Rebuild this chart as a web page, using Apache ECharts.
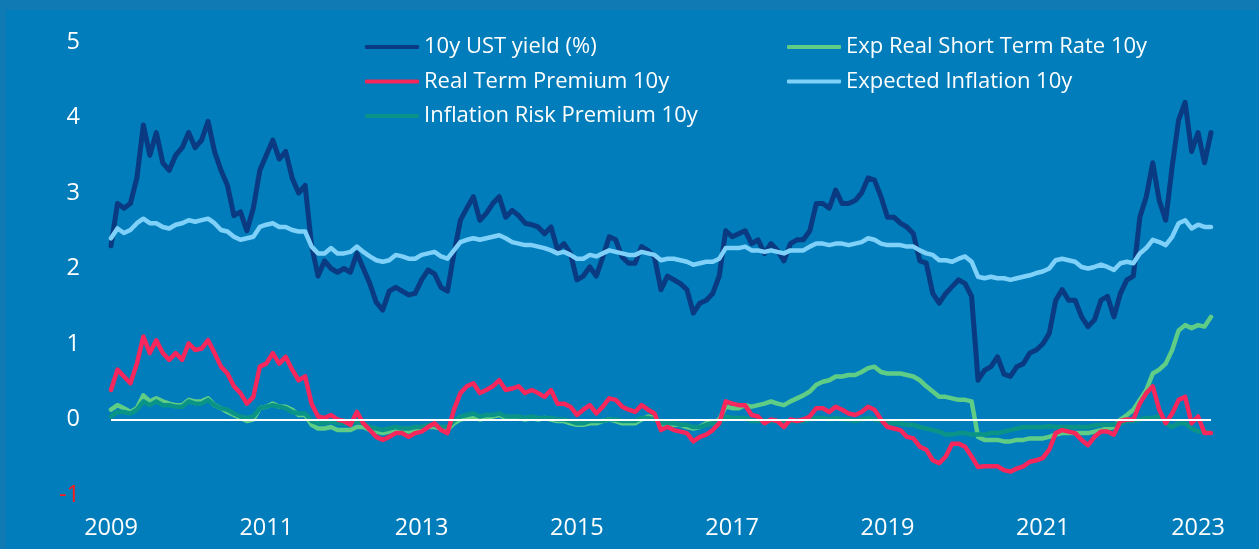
<!DOCTYPE html>
<html>
<head>
<meta charset="utf-8">
<script src="https://cdn.jsdelivr.net/npm/echarts@6/dist/echarts.min.js"></script>
<style>
  html, body { margin: 0; padding: 0; background: #0f7ab3; width: 1259px; height: 549px; overflow: hidden; }
  #main { position: absolute; left: 6px; top: 10px; width: 1253px; height: 539px; background: #007dba; }
</style>
</head>
<body>
<div id="main"></div>
<script>
// monthly values, Jan 2009 .. Mar 2023
var startYear = 2009
var yearTicks = ['2009', '2011', '2013', '2015', '2017', '2019', '2021', '2023']

var ustYield = [
    2.3, 2.86, 2.8, 2.86, 3.2, 3.9, 3.5, 3.8, 3.4, 3.3, 3.5, 3.6,
    3.8, 3.6, 3.7, 3.95, 3.55, 3.3, 3.1, 2.7, 2.75, 2.5, 2.8, 3.3,
    3.5, 3.7, 3.45, 3.55, 3.2, 3.0, 3.1, 2.3, 1.9, 2.1, 2.0, 1.95,
    2.0, 1.95, 2.2, 2.0, 1.8, 1.55, 1.45, 1.7, 1.75, 1.7, 1.65, 1.67,
    1.85, 1.98, 1.93, 1.75, 1.7, 2.2, 2.64, 2.8, 2.95, 2.64, 2.73, 2.86,
    2.95, 2.68, 2.77, 2.7, 2.6, 2.58, 2.55, 2.46, 2.55, 2.25, 2.33, 2.2,
    1.85, 1.9, 2.02, 1.9, 2.15, 2.42, 2.38, 2.15, 2.07, 2.07, 2.29, 2.24,
    2.15, 1.72, 1.9, 1.85, 1.8, 1.72, 1.41, 1.54, 1.58, 1.67, 1.9, 2.5,
    2.42, 2.46, 2.5, 2.33, 2.38, 2.2, 2.33, 2.24, 2.1, 2.33, 2.38, 2.38,
    2.5, 2.86, 2.86, 2.8, 3.04, 2.86, 2.86, 2.9, 3.0, 3.2, 3.17, 2.95,
    2.68, 2.68, 2.6, 2.55, 2.46, 2.1, 2.07, 1.67, 1.54, 1.67, 1.76, 1.85,
    1.8, 1.63, 0.52, 0.65, 0.7, 0.83, 0.6, 0.57, 0.7, 0.74, 0.88, 0.92,
    1.0, 1.14, 1.58, 1.72, 1.58, 1.58, 1.36, 1.23, 1.32, 1.58, 1.63, 1.36,
    1.67, 1.85, 1.9, 2.68, 2.95, 3.4, 2.9, 2.64, 3.35, 3.97, 4.2, 3.55,
    3.8, 3.4, 3.8
]

var expReal = [
    0.13, 0.19, 0.15, 0.1, 0.15, 0.32, 0.24, 0.28, 0.24, 0.21, 0.19, 0.19,
    0.26, 0.24, 0.24, 0.28, 0.19, 0.15, 0.1, 0.06, 0.02, -0.02, 0.0, 0.15,
    0.17, 0.21, 0.17, 0.17, 0.13, 0.06, 0.06, -0.07, -0.12, -0.12, -0.1, -0.14,
    -0.14, -0.14, -0.1, -0.1, -0.14, -0.16, -0.18, -0.16, -0.14, -0.16, -0.16, -0.14,
    -0.12, -0.1, -0.1, -0.12, -0.14, -0.05, 0.0, 0.02, 0.04, 0.0, 0.02, 0.04,
    0.06, 0.02, 0.02, 0.02, 0.0, 0.02, 0.0, 0.02, 0.0, -0.02, -0.02, -0.05,
    -0.07, -0.07, -0.05, -0.05, -0.02, 0.0, -0.02, -0.05, -0.05, -0.05, 0.0, 0.04,
    0.02, -0.07, -0.05, -0.07, -0.07, -0.1, -0.12, -0.1, -0.05, -0.05, 0.0, 0.17,
    0.15, 0.15, 0.19, 0.17, 0.19, 0.21, 0.24, 0.21, 0.19, 0.24, 0.28, 0.32,
    0.37, 0.46, 0.5, 0.52, 0.57, 0.57, 0.59, 0.59, 0.63, 0.68, 0.7, 0.63,
    0.61, 0.61, 0.61, 0.59, 0.57, 0.52, 0.44, 0.37, 0.3, 0.3, 0.28, 0.26,
    0.26, 0.24, -0.23, -0.27, -0.27, -0.27, -0.29, -0.29, -0.27, -0.27, -0.25, -0.25,
    -0.25, -0.23, -0.2, -0.18, -0.18, -0.18, -0.18, -0.18, -0.16, -0.14, -0.12, -0.1,
    0.0, 0.06, 0.13, 0.26, 0.39, 0.61, 0.66, 0.74, 0.92, 1.18, 1.25, 1.21,
    1.25, 1.23, 1.36
]

var realTerm = [
    0.39, 0.66, 0.57, 0.48, 0.74, 1.1, 0.88, 1.05, 0.88, 0.79, 0.88, 0.79,
    1.01, 0.92, 0.94, 1.05, 0.88, 0.7, 0.61, 0.44, 0.35, 0.21, 0.3, 0.7,
    0.74, 0.88, 0.74, 0.83, 0.66, 0.52, 0.57, 0.21, 0.04, 0.02, 0.06, 0.0,
    -0.02, -0.07, 0.1, -0.05, -0.14, -0.23, -0.27, -0.23, -0.18, -0.18, -0.23, -0.18,
    -0.16, -0.1, -0.05, -0.14, -0.18, 0.13, 0.35, 0.44, 0.48, 0.35, 0.39, 0.44,
    0.52, 0.39, 0.41, 0.44, 0.35, 0.39, 0.35, 0.3, 0.39, 0.21, 0.21, 0.17,
    0.06, 0.13, 0.19, 0.08, 0.17, 0.28, 0.26, 0.17, 0.13, 0.1, 0.19, 0.13,
    0.08, -0.14, -0.1, -0.14, -0.16, -0.18, -0.29, -0.23, -0.2, -0.14, -0.05, 0.24,
    0.21, 0.19, 0.19, 0.06, 0.04, -0.05, 0.0, -0.02, -0.1, 0.0, -0.02, 0.0,
    0.04, 0.15, 0.15, 0.1, 0.17, 0.13, 0.08, 0.06, 0.1, 0.17, 0.13, 0.0,
    -0.1, -0.12, -0.14, -0.23, -0.25, -0.36, -0.4, -0.54, -0.58, -0.49, -0.32, -0.32,
    -0.36, -0.49, -0.63, -0.62, -0.62, -0.62, -0.67, -0.69, -0.65, -0.62, -0.56, -0.54,
    -0.51, -0.4, -0.18, -0.14, -0.16, -0.18, -0.27, -0.34, -0.23, -0.16, -0.16, -0.2,
    -0.02, 0.0, 0.0, 0.21, 0.35, 0.44, 0.13, -0.05, 0.08, 0.26, 0.3, -0.05,
    0.04, -0.18, -0.18
]

var expInfl = [
    2.4, 2.53, 2.47, 2.51, 2.6, 2.66, 2.6, 2.6, 2.55, 2.53, 2.58, 2.6,
    2.64, 2.62, 2.64, 2.66, 2.6, 2.51, 2.49, 2.42, 2.38, 2.4, 2.42, 2.55,
    2.58, 2.6, 2.55, 2.55, 2.51, 2.49, 2.49, 2.29, 2.2, 2.2, 2.27, 2.2,
    2.2, 2.22, 2.29, 2.22, 2.16, 2.11, 2.09, 2.11, 2.18, 2.16, 2.13, 2.13,
    2.18, 2.2, 2.22, 2.16, 2.13, 2.24, 2.35, 2.38, 2.4, 2.38, 2.4, 2.42,
    2.44, 2.4, 2.35, 2.33, 2.31, 2.31, 2.29, 2.27, 2.24, 2.2, 2.22, 2.18,
    2.13, 2.13, 2.18, 2.16, 2.2, 2.24, 2.22, 2.2, 2.18, 2.18, 2.22, 2.2,
    2.18, 2.11, 2.13, 2.13, 2.11, 2.09, 2.05, 2.07, 2.09, 2.09, 2.13, 2.27,
    2.27, 2.27, 2.29, 2.24, 2.24, 2.22, 2.24, 2.22, 2.2, 2.24, 2.24, 2.24,
    2.29, 2.33, 2.33, 2.31, 2.33, 2.33, 2.31, 2.33, 2.35, 2.4, 2.38, 2.33,
    2.31, 2.31, 2.31, 2.29, 2.29, 2.24, 2.2, 2.18, 2.11, 2.11, 2.09, 2.13,
    2.16, 2.09, 1.89, 1.87, 1.89, 1.87, 1.87, 1.85, 1.87, 1.89, 1.91, 1.94,
    1.96, 2.0, 2.11, 2.13, 2.11, 2.09, 2.02, 2.0, 2.02, 2.05, 2.02, 1.98,
    2.07, 2.09, 2.07, 2.2, 2.27, 2.38, 2.35, 2.31, 2.42, 2.6, 2.64, 2.53,
    2.58, 2.55, 2.55
]

var inflRisk = [
    0.04, 0.1, 0.1, 0.08, 0.13, 0.24, 0.19, 0.24, 0.19, 0.19, 0.17, 0.17,
    0.24, 0.21, 0.21, 0.26, 0.19, 0.15, 0.13, 0.08, 0.04, 0.02, 0.04, 0.15,
    0.17, 0.19, 0.17, 0.15, 0.1, 0.08, 0.08, -0.02, -0.05, -0.05, -0.02, -0.05,
    -0.05, -0.05, -0.02, -0.05, -0.1, -0.12, -0.14, -0.12, -0.1, -0.12, -0.12, -0.1,
    -0.1, -0.07, -0.07, -0.1, -0.1, -0.02, 0.04, 0.06, 0.08, 0.04, 0.06, 0.06,
    0.08, 0.04, 0.04, 0.04, 0.02, 0.04, 0.02, 0.02, 0.02, 0.0, 0.0, -0.02,
    -0.05, -0.05, -0.02, -0.02, -0.02, 0.0, 0.0, -0.02, -0.02, -0.02, 0.02, 0.02,
    0.0, -0.05, -0.05, -0.05, -0.07, -0.07, -0.1, -0.1, -0.07, -0.05, -0.05, 0.04,
    0.02, 0.02, 0.02, -0.02, -0.02, -0.02, -0.02, -0.02, -0.05, -0.02, -0.02, -0.02,
    0.0, 0.02, 0.02, 0.0, 0.02, 0.0, 0.0, -0.02, 0.0, 0.02, 0.0, -0.02,
    -0.05, -0.05, -0.05, -0.07, -0.07, -0.1, -0.12, -0.14, -0.16, -0.2, -0.2, -0.18,
    -0.18, -0.2, -0.2, -0.2, -0.18, -0.18, -0.16, -0.14, -0.12, -0.1, -0.1, -0.1,
    -0.1, -0.09, -0.1, -0.1, -0.1, -0.1, -0.1, -0.1, -0.08, -0.07, -0.07, -0.07,
    -0.05, -0.02, -0.02, 0.0, 0.02, 0.02, 0.04, -0.05, -0.1, -0.05, -0.05, -0.12,
    -0.16, -0.16, -0.18
]

// x = years since Jan 2009
function toPoints(values) {
    return values.map((v, i) => [i / 12, v])
}

var lastX = (ustYield.length - 1) / 12
var font = '"Open Sans"'

var chartDom = document.getElementById('main');
var myChart = echarts.init(chartDom);

function lineSeries(name, data, color, width) {
    return {
        name: name, type: 'line', data: toPoints(data), color: color,
        symbol: 'none', smooth: false, animation: false,
        lineStyle: {width: width, color: color, cap: 'round', join: 'round'}
    }
}

var series = [
    lineSeries('10y UST yield (%)', ustYield, '#0a3a82', 5),
    lineSeries('Expected Inflation 10y', expInfl, '#7fd1f9', 4.5),
    lineSeries('Exp Real Short Term Rate 10y', expReal, '#5fcd86', 4.5),
    lineSeries('Inflation Risk Premium 10y', inflRisk, '#0a9488', 4.5),
    lineSeries('Real Term Premium 10y', realTerm, '#f5275c', 4.5)
]

// white zero line, drawn under the lines
series[0].markLine = {
    silent: true, symbol: 'none', animation: false,
    label: {show: false},
    lineStyle: {color: '#ffffff', width: 2, type: 'solid'},
    data: [{yAxis: 0}]
}

var legendText = {color: '#ffffff', fontFamily: font, fontSize: 22, lineHeight: 24}

var option = {
    backgroundColor: 'transparent',
    animation: false,
    grid: {left: 105, right: 48, top: 32, bottom: 54, containLabel: false},
    legend: [
        {
            orient: 'vertical', left: 354, top: 20, itemGap: 10.5,
            icon: 'roundRect', itemWidth: 54, itemHeight: 4,
            textStyle: legendText,
            data: ['10y UST yield (%)', 'Real Term Premium 10y', 'Inflation Risk Premium 10y']
        },
        {
            orient: 'vertical', left: 776, top: 20, itemGap: 10.5,
            icon: 'roundRect', itemWidth: 54, itemHeight: 4,
            textStyle: legendText,
            data: ['Exp Real Short Term Rate 10y', 'Expected Inflation 10y']
        }
    ],
    xAxis: {
        type: 'value', min: 0, max: lastX, interval: 2,
        axisLine: {show: false}, axisTick: {show: false}, splitLine: {show: false},
        axisLabel: {
            color: '#ffffff', fontFamily: font, fontSize: 23.5, margin: 21,
            showMaxLabel: false,
            formatter: v => yearTicks[Math.round(v / 2)] || String(startYear + v)
        }
    },
    yAxis: {
        type: 'value', min: -1, max: 5, interval: 1,
        axisLine: {show: false}, axisTick: {show: false}, splitLine: {show: false},
        axisLabel: {
            fontFamily: font, fontSize: 23.5, margin: 31,
            color: v => (v < 0 ? '#ff1a1a' : '#ffffff')
        }
    },
    series: series
};
option && myChart.setOption(option);
</script>
</body>
</html>
